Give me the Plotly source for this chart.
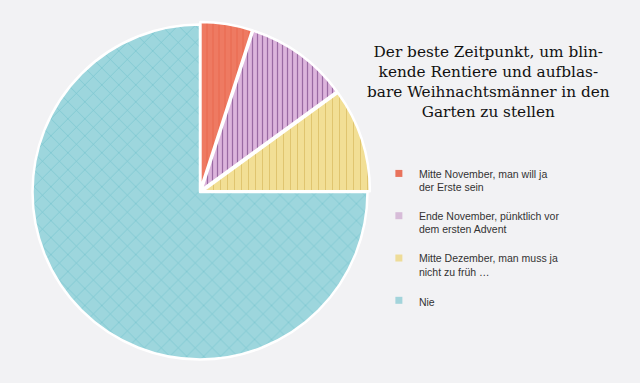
import plotly.graph_objects as go

labels = [
    "Mitte November, man will ja<br>der Erste sein",
    "Ende November, pünktlich vor<br>dem ersten Advent",
    "Mitte Dezember, man muss ja<br>nicht zu früh …",
    "Nie",
]
values = [5, 10, 10, 75]
colors = ["#ee7a62", "#dcb4dc", "#f2df95", "#9dd6dd"]
legend_colors = ["#e9735c", "#d7bcd8", "#eedc98", "#a3d4db"]
pattern_fg = ["#e8664c", "#9a6aa3", "#dcc068", "#72c3cc"]
pattern_shapes = ["|", "|", "|", "x"]
pull = [0.015, 0.015, 0.015, 0]

title = ("Der beste Zeitpunkt, um blin-<br>kende Rentiere und aufblas-<br>"
         "bare Weihnachtsmänner in den<br>Garten zu stellen")

fig = go.Figure()
fig.add_trace(go.Pie(
    labels=labels,
    values=values,
    sort=False,
    direction="clockwise",
    rotation=0,
    pull=pull,
    textinfo="none",
    hoverinfo="label+percent",
    showlegend=False,
    marker=dict(
        colors=colors,
        line=dict(color="#ffffff", width=2.5),
        pattern=dict(shape=pattern_shapes, fgcolor=pattern_fg,
                     bgcolor=colors, size=[6, 5, 7, 12],
                     solidity=[0.15, 0.25, 0.12, 0.1],
                     fillmode="replace"),
    ),
    domain=dict(x=[30 / 640, 370 / 640], y=[21 / 383, 361 / 383]),
))

# legend entries (solid square swatches, one group per category)
for i, (lab, col) in enumerate(zip(labels, legend_colors)):
    fig.add_trace(go.Scatter(
        x=[None], y=[None], mode="markers", name=lab,
        legendgroup=str(i), hoverinfo="skip",
        marker=dict(symbol="square", size=7, color=col),
    ))

fig.update_layout(
    width=640, height=383,
    margin=dict(l=0, r=0, t=0, b=0),
    paper_bgcolor="#f2f2f4",
    plot_bgcolor="#f2f2f4",
    showlegend=True,
    xaxis=dict(visible=False),
    yaxis=dict(visible=False),
    legend=dict(
        x=0.592, y=0.582, xanchor="left", yanchor="top",
        font=dict(family="Liberation Sans, Arial, sans-serif", size=10.5, color="#333333"),
        valign="top",
        itemclick=False,
        itemsizing="trace",
        tracegroupgap=12,
        bgcolor="rgba(0,0,0,0)",
    ),
    annotations=[dict(
        text=title, x=0.764, y=1 - 82 / 383, xref="paper", yref="paper",
        xanchor="center", yanchor="middle", showarrow=False, align="center",
        font=dict(family="DejaVu Serif, serif", size=15.3, color="#111111"),
    )],
)

fig.write_html("out.html", config={"displayModeBar": False},
               post_script="document.body.style.margin='0';")
